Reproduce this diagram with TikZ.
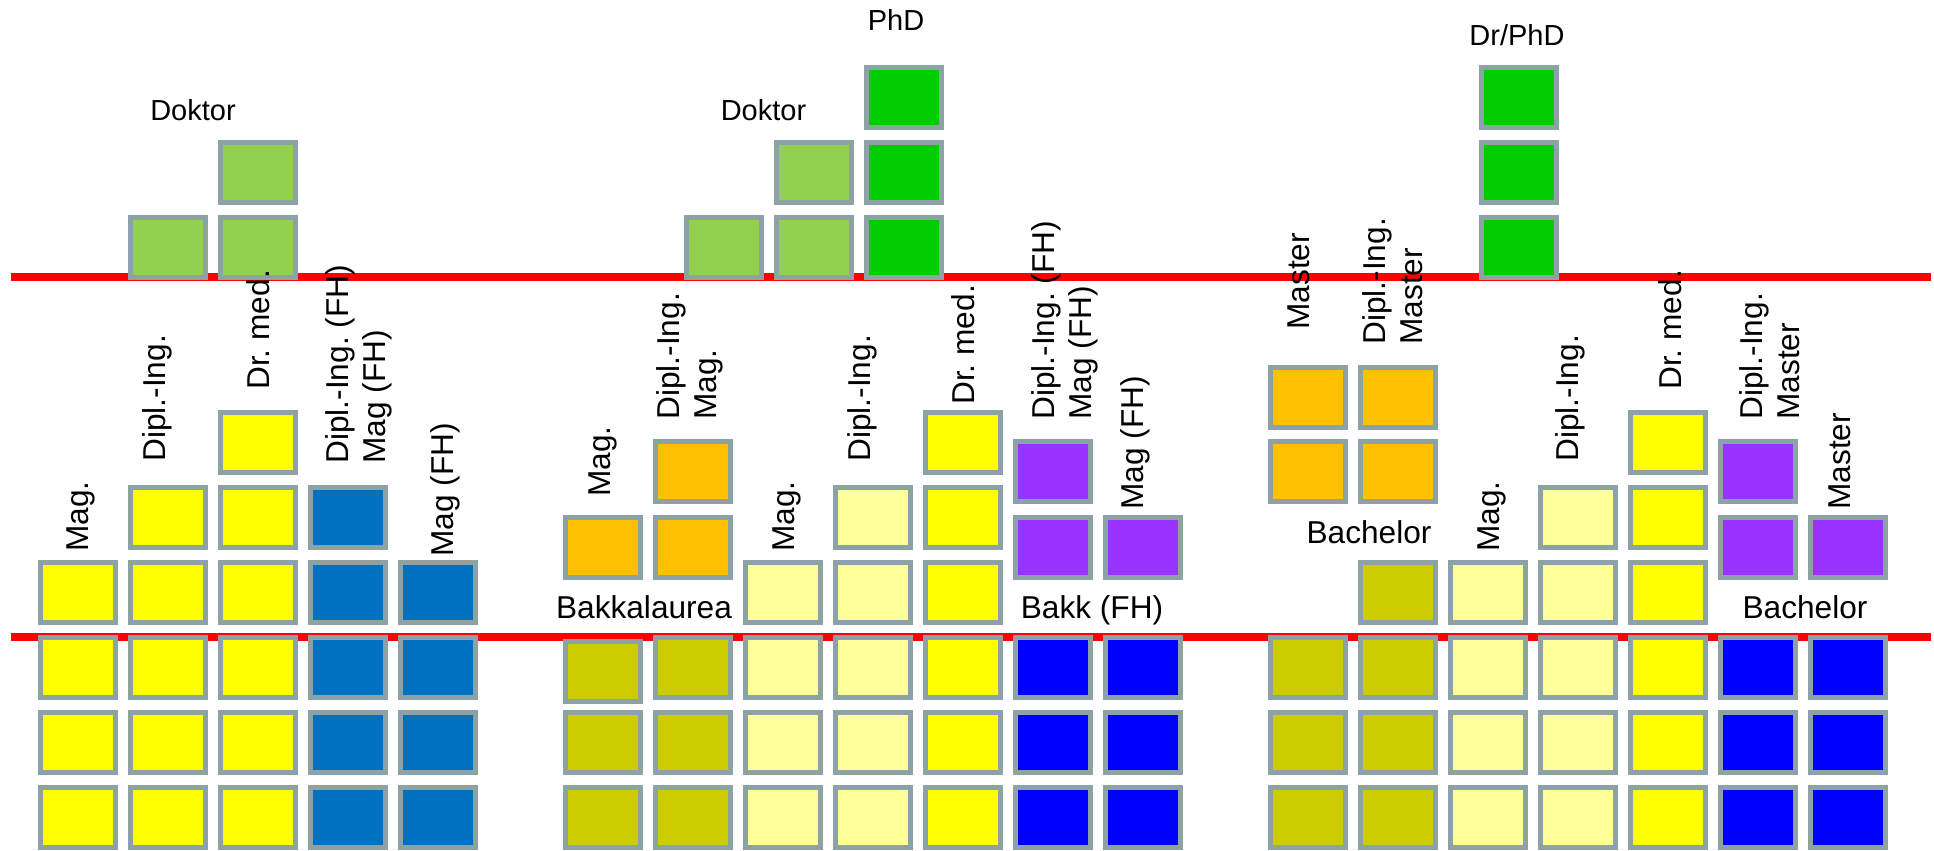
\documentclass[tikz,border=0pt]{standalone}
\usepackage{fontspec}
\setmainfont{Liberation Sans}
\frenchspacing
\definecolor{boxgray}{HTML}{8CA2A4}
\definecolor{lgr}{HTML}{92D050}
\definecolor{dgr}{HTML}{00CC00}
\definecolor{yel}{HTML}{FFFF00}
\definecolor{lyel}{HTML}{FFFF99}
\definecolor{oli}{HTML}{CCCC00}
\definecolor{org}{HTML}{FFC000}
\definecolor{fhblue}{HTML}{0070C0}
\definecolor{blu}{HTML}{0000FF}
\definecolor{pur}{HTML}{9933FF}

\begin{document}
\begin{tikzpicture}
[x=.02cm,y=-.02cm,every node/.style={inner sep=0pt}]
\tikzset{cell/.style = {rectangle,draw=boxgray,line width=.1cm,minimum width=1.5cm,minimum height=1.2cm}}
\tikzset{deg/.style = {font=\fontsize{18pt}{21pt}\selectfont,rotate=90,anchor=west,align=left}}
\tikzset{head/.style = {font=\fontsize{16.5pt}{20pt}\selectfont,anchor=base}}
\tikzset{stage/.style = {font=\fontsize{18pt}{21pt}\selectfont,anchor=base}}
\tikzset{limit/.style = {draw=red,line width=.16cm}}
\useasboundingbox (0,0) rectangle (1934,850);
  \coordinate (ul) at (10.7,277.3);
  \coordinate (ur) at (1930.7,277.3);
  \coordinate (ll) at (10.7,637.3);
  \coordinate (lr) at (1930.7,637.3);
\draw[limit] (ul) -- (ur);
\draw[limit] (ll) -- (lr);
  \node[cell,fill=yel] (a11) at (78,817.5){};
  \node[cell,fill=yel] (a12) at (78,742.5){};
  \node[cell,fill=yel] (a13) at (78,667.5){};
  \node[cell,fill=yel] (a14) at (78,592.5){};
  \node[cell,fill=yel] (a21) at (168,817.5){};
  \node[cell,fill=yel] (a22) at (168,742.5){};
  \node[cell,fill=yel] (a23) at (168,667.5){};
  \node[cell,fill=yel] (a24) at (168,592.5){};
  \node[cell,fill=yel] (a25) at (168,517.5){};
  \node[cell,fill=yel] (a31) at (258,817.5){};
  \node[cell,fill=yel] (a32) at (258,742.5){};
  \node[cell,fill=yel] (a33) at (258,667.5){};
  \node[cell,fill=yel] (a34) at (258,592.5){};
  \node[cell,fill=yel] (a35) at (258,517.5){};
  \node[cell,fill=yel] (a36) at (258,442.5){};
  \node[cell,fill=fhblue] (a41) at (348,817.5){};
  \node[cell,fill=fhblue] (a42) at (348,742.5){};
  \node[cell,fill=fhblue] (a43) at (348,667.5){};
  \node[cell,fill=fhblue] (a44) at (348,592.5){};
  \node[cell,fill=fhblue] (a45) at (348,517.5){};
  \node[cell,fill=fhblue] (a51) at (438,817.5){};
  \node[cell,fill=fhblue] (a52) at (438,742.5){};
  \node[cell,fill=fhblue] (a53) at (438,667.5){};
  \node[cell,fill=fhblue] (a54) at (438,592.5){};
  \node[cell,fill=lgr] (ad1) at (168,247.5){};
  \node[cell,fill=lgr] (ad2) at (258,247.5){};
  \node[cell,fill=lgr] (ad3) at (258,172.5){};
  \node[cell,fill=oli] (b11) at (603,817.5){};
  \node[cell,fill=oli] (b12) at (603,742.5){};
  \node[cell,fill=oli] (b13) at (603,671.5){};
  \node[cell,fill=org] (b14) at (603,547.5){};
  \node[cell,fill=oli] (b21) at (693,817.5){};
  \node[cell,fill=oli] (b22) at (693,742.5){};
  \node[cell,fill=oli] (b23) at (693,667.5){};
  \node[cell,fill=org] (b24) at (693,547.5){};
  \node[cell,fill=org] (b25) at (693,471.5){};
  \node[cell,fill=lyel] (b31) at (783,817.5){};
  \node[cell,fill=lyel] (b32) at (783,742.5){};
  \node[cell,fill=lyel] (b33) at (783,667.5){};
  \node[cell,fill=lyel] (b34) at (783,592.5){};
  \node[cell,fill=lyel] (b41) at (873,817.5){};
  \node[cell,fill=lyel] (b42) at (873,742.5){};
  \node[cell,fill=lyel] (b43) at (873,667.5){};
  \node[cell,fill=lyel] (b44) at (873,592.5){};
  \node[cell,fill=lyel] (b45) at (873,517.5){};
  \node[cell,fill=yel] (b51) at (963,817.5){};
  \node[cell,fill=yel] (b52) at (963,742.5){};
  \node[cell,fill=yel] (b53) at (963,667.5){};
  \node[cell,fill=yel] (b54) at (963,592.5){};
  \node[cell,fill=yel] (b55) at (963,517.5){};
  \node[cell,fill=yel] (b56) at (963,442.5){};
  \node[cell,fill=blu] (b61) at (1053,817.5){};
  \node[cell,fill=blu] (b62) at (1053,742.5){};
  \node[cell,fill=blu] (b63) at (1053,667.5){};
  \node[cell,fill=pur] (b64) at (1053,547.5){};
  \node[cell,fill=pur] (b65) at (1053,471.5){};
  \node[cell,fill=blu] (b71) at (1143,817.5){};
  \node[cell,fill=blu] (b72) at (1143,742.5){};
  \node[cell,fill=blu] (b73) at (1143,667.5){};
  \node[cell,fill=pur] (b74) at (1143,547.5){};
  \node[cell,fill=lgr] (bd1) at (724,247.5){};
  \node[cell,fill=lgr] (bd2) at (814,247.5){};
  \node[cell,fill=lgr] (bd3) at (814,172.5){};
  \node[cell,fill=dgr] (bp1) at (904,247.5){};
  \node[cell,fill=dgr] (bp2) at (904,172.5){};
  \node[cell,fill=dgr] (bp3) at (904,97.5){};
  \node[cell,fill=oli] (c11) at (1308,817.5){};
  \node[cell,fill=oli] (c12) at (1308,742.5){};
  \node[cell,fill=oli] (c13) at (1308,667.5){};
  \node[cell,fill=org] (c15) at (1308,471.5){};
  \node[cell,fill=org] (c16) at (1308,397.5){};
  \node[cell,fill=oli] (c21) at (1398,817.5){};
  \node[cell,fill=oli] (c22) at (1398,742.5){};
  \node[cell,fill=oli] (c23) at (1398,667.5){};
  \node[cell,fill=oli] (c24) at (1398,592.5){};
  \node[cell,fill=org] (c25) at (1398,471.5){};
  \node[cell,fill=org] (c26) at (1398,397.5){};
  \node[cell,fill=lyel] (c31) at (1488,817.5){};
  \node[cell,fill=lyel] (c32) at (1488,742.5){};
  \node[cell,fill=lyel] (c33) at (1488,667.5){};
  \node[cell,fill=lyel] (c34) at (1488,592.5){};
  \node[cell,fill=lyel] (c41) at (1578,817.5){};
  \node[cell,fill=lyel] (c42) at (1578,742.5){};
  \node[cell,fill=lyel] (c43) at (1578,667.5){};
  \node[cell,fill=lyel] (c44) at (1578,592.5){};
  \node[cell,fill=lyel] (c45) at (1578,517.5){};
  \node[cell,fill=yel] (c51) at (1668,817.5){};
  \node[cell,fill=yel] (c52) at (1668,742.5){};
  \node[cell,fill=yel] (c53) at (1668,667.5){};
  \node[cell,fill=yel] (c54) at (1668,592.5){};
  \node[cell,fill=yel] (c55) at (1668,517.5){};
  \node[cell,fill=yel] (c56) at (1668,442.5){};
  \node[cell,fill=blu] (c61) at (1758,817.5){};
  \node[cell,fill=blu] (c62) at (1758,742.5){};
  \node[cell,fill=blu] (c63) at (1758,667.5){};
  \node[cell,fill=pur] (c64) at (1758,547.5){};
  \node[cell,fill=pur] (c65) at (1758,471.5){};
  \node[cell,fill=blu] (c71) at (1848,817.5){};
  \node[cell,fill=blu] (c72) at (1848,742.5){};
  \node[cell,fill=blu] (c73) at (1848,667.5){};
  \node[cell,fill=pur] (c74) at (1848,547.5){};
  \node[cell,fill=dgr] (cp1) at (1519,247.5){};
  \node[cell,fill=dgr] (cp2) at (1519,172.5){};
  \node[cell,fill=dgr] (cp3) at (1519,97.5){};
  \node[head] (doka) at (193,120.7){Doktor};
  \node[head] (dokb) at (763.5,120.7){Doktor};
  \node[head] (phd) at (896,30.7){PhD};
  \node[head] (drphd) at (1517,45){Dr/PhD};
  \node[stage] (bakk) at (644,618){Bakkalaurea};
  \node[stage] (bakkfh) at (1092,618){Bakk (FH)};
  \node[stage] (bacha) at (1369,543){Bachelor};
  \node[stage] (bachb) at (1805,618){Bachelor};
  \node[deg] (a1t) at (81,552){Mag.};
  \node[deg] (a2t) at (157.5,462){Dipl.-Ing.};
  \node[deg] (a3t) at (258,390){Dr. med.};
  \node[deg] (a4t) at (358.5,464){Dipl.-Ing. (FH)\\Mag (FH)};
  \node[deg] (a5t) at (445.5,557){Mag (FH)};
  \node[deg] (b1t) at (602.5,497){Mag.};
  \node[deg] (b2t) at (690,420){Dipl.-Ing.\\Mag.};
  \node[deg] (b3t) at (786.5,552){Mag.};
  \node[deg] (b4t) at (862,462){Dipl.-Ing.};
  \node[deg] (b5t) at (963.5,405){Dr. med.};
  \node[deg] (b6t) at (1065,420){Dipl.-Ing. (FH)\\Mag (FH)};
  \node[deg] (b7t) at (1135.5,510){Mag (FH)};
  \node[deg] (c1t) at (1299,330){Master};
  \node[deg] (c2t) at (1393,345){Dipl.-Ing.\\Master};
  \node[deg] (c3t) at (1492,552){Mag.};
  \node[deg] (c4t) at (1570,462){Dipl.-Ing.};
  \node[deg] (c5t) at (1670,390){Dr. med.};
  \node[deg] (c6t) at (1770,420){Dipl.-Ing.\\Master};
  \node[deg] (c7t) at (1840,510){Master};
\end{tikzpicture}
\end{document}
